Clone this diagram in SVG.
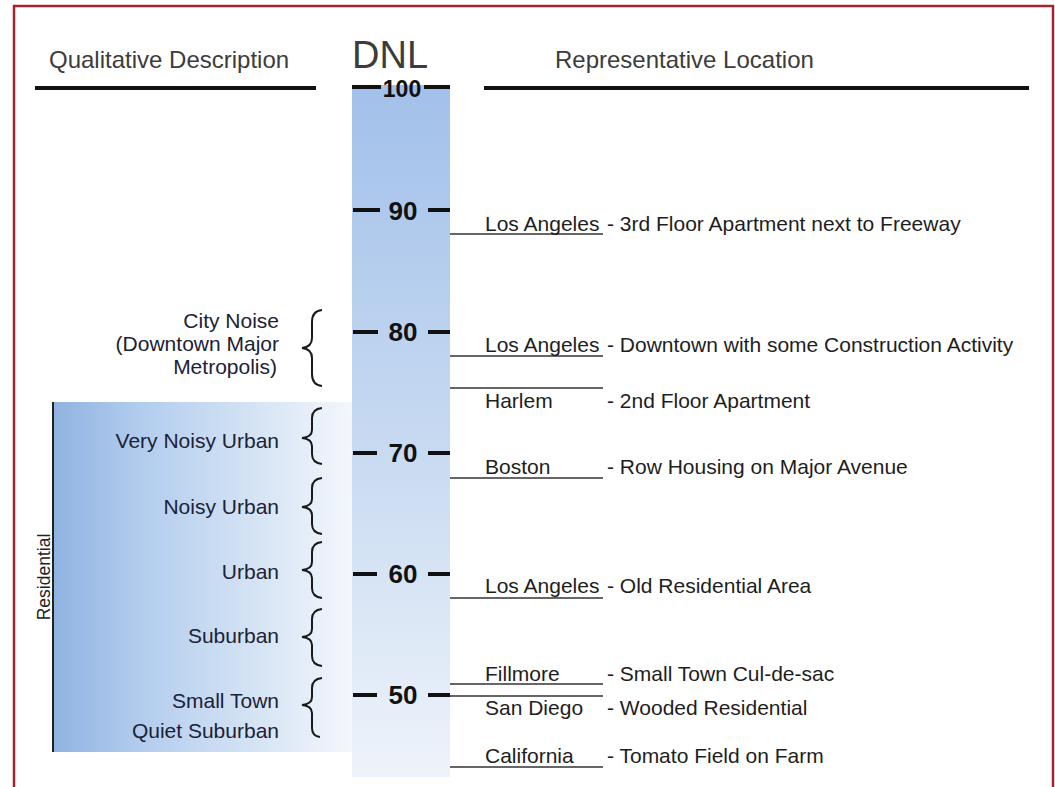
<svg xmlns="http://www.w3.org/2000/svg" width="1055" height="787" viewBox="0 0 1055 787">
<defs>
<linearGradient id="barGrad" x1="0" y1="0" x2="0" y2="1">
<stop offset="0" stop-color="#a2c0ea"/>
<stop offset="0.5" stop-color="#c6d9f1"/>
<stop offset="1" stop-color="#eef3fa"/>
</linearGradient>
<linearGradient id="resGrad" x1="0" y1="0" x2="1" y2="0">
<stop offset="0" stop-color="#8fb3e1"/>
<stop offset="0.3" stop-color="#b3cdee"/>
<stop offset="0.72" stop-color="#d9e6f5"/>
<stop offset="1" stop-color="#f3f7fc"/>
</linearGradient>
<style>
.hdr{font-family:"Liberation Sans",Arial,sans-serif;font-size:24px;fill:#3c3c3c}
.lbl{font-family:"Liberation Sans",Arial,sans-serif;font-size:21px;fill:#1c2236;text-anchor:end}
.loc{font-family:"Liberation Sans",Arial,sans-serif;font-size:21px;fill:#1e1e1e}
.tick{font-family:"Liberation Sans",Arial,sans-serif;font-size:26px;font-weight:bold;fill:#111;text-anchor:middle}
.dash{stroke:#111;stroke-width:4}
.thin{stroke:#333;stroke-width:1.5;fill:none}
.brace{stroke:#1a1a1a;stroke-width:2;fill:none}
</style>
</defs>
<rect x="0" y="0" width="1055" height="787" fill="#ffffff"/>
<path d="M14 787 V6 H1053 V787" fill="none" stroke="#a8232e" stroke-width="2.5"/>

<g id="headers">
<text class="hdr" x="49" y="68">Qualitative Description</text>
<text class="hdr" x="352" y="68" style="font-size:38px">DNL</text>
<text class="hdr" x="555" y="68">Representative Location</text>
<line x1="35" y1="88" x2="316" y2="88" stroke="#111" stroke-width="4"/>
<line x1="484" y1="88" x2="1029" y2="88" stroke="#111" stroke-width="4"/>
</g>

<g id="residential">
<rect x="53" y="402" width="299" height="350" fill="url(#resGrad)"/>
<line x1="53" y1="402" x2="53" y2="752" stroke="#222" stroke-width="2"/>
<text transform="translate(50,577) rotate(-90)" text-anchor="middle" style="font-family:'Liberation Sans',Arial,sans-serif;font-size:17.5px;fill:#222">Residential</text>
</g>

<g id="dnl-scale">
<rect x="352" y="85" width="98" height="692" fill="url(#barGrad)"/>
<line class="dash" x1="352" y1="87" x2="381" y2="87"/>
<line class="dash" x1="424" y1="87" x2="450" y2="87"/>
<text class="tick" x="402" y="97" style="font-size:23px">100</text>
<line class="dash" x1="353" y1="210" x2="380" y2="210"/>
<line class="dash" x1="428" y1="210" x2="450" y2="210"/>
<text class="tick" x="403" y="220">90</text>
<line class="dash" x1="353" y1="332" x2="378" y2="332"/>
<line class="dash" x1="428" y1="332" x2="450" y2="332"/>
<text class="tick" x="403" y="341">80</text>
<line class="dash" x1="353" y1="453" x2="377" y2="453"/>
<line class="dash" x1="428" y1="453" x2="450" y2="453"/>
<text class="tick" x="403" y="462">70</text>
<line class="dash" x1="353" y1="574" x2="377" y2="574"/>
<line class="dash" x1="428" y1="574" x2="450" y2="574"/>
<text class="tick" x="403" y="583">60</text>
<line class="dash" x1="353" y1="695" x2="377" y2="695"/>
<line class="dash" x1="428" y1="695" x2="450" y2="695"/>
<text class="tick" x="403" y="704">50</text>
</g>

<g id="desc-city">
<text class="lbl" x="279" y="328">City Noise</text>
<text class="lbl" x="279" y="351">(Downtown Major</text>
<text class="lbl" x="277" y="374">Metropolis)</text>
<path class="brace" d="M322 310 Q312 311 312 322 L312 338 Q312 347 302 348 Q312 349 312 358 L312 374 Q312 385 322 386"/>
</g>
<g id="desc-very-noisy">
<text class="lbl" x="279" y="448">Very Noisy Urban</text>
<path class="brace" d="M322 408 Q312 409 312 418 L312 430 Q312 437 302 438 Q312 439 312 446 L312 454 Q312 463 322 464"/>
</g>
<g id="desc-noisy">
<text class="lbl" x="279" y="514">Noisy Urban</text>
<path class="brace" d="M322 478 Q312 479 312 488 L312 499 Q312 506 302 507 Q312 508 312 515 L312 524 Q312 533 322 534"/>
</g>
<g id="desc-urban">
<text class="lbl" x="279" y="579">Urban</text>
<path class="brace" d="M322 542 Q312 543 312 552 L312 562 Q312 569 302 570 Q312 571 312 578 L312 588 Q312 597 322 598"/>
</g>
<g id="desc-suburban">
<text class="lbl" x="279" y="643">Suburban</text>
<path class="brace" d="M322 609 Q312 610 312 619 L312 629 Q312 636 302 637 Q312 638 312 645 L312 656 Q312 665 322 666"/>
</g>
<g id="desc-small-town">
<text class="lbl" x="279" y="708">Small Town</text>
<text class="lbl" x="279" y="738">Quiet Suburban</text>
<path class="brace" d="M322 678 Q312 679 312 688 L312 697 Q312 704 302 705 Q312 706 312 713 L312 728 Q312 736 320 737"/>
</g>

<g id="connectors">
<line class="thin" x1="450" y1="234" x2="603" y2="234"/>
<line class="thin" x1="450" y1="356" x2="603" y2="356"/>
<line class="thin" x1="450" y1="388" x2="603" y2="388"/>
<line class="thin" x1="450" y1="478" x2="603" y2="478"/>
<line class="thin" x1="450" y1="598" x2="603" y2="598"/>
<line class="thin" x1="450" y1="684" x2="603" y2="684"/>
<line class="thin" x1="450" y1="696" x2="603" y2="696"/>
<line class="thin" x1="450" y1="767" x2="603" y2="767"/>
</g>

<g id="loc-la-freeway">
<text class="loc" x="485" y="231">Los Angeles</text>
<text class="loc" x="607" y="231">- 3rd Floor Apartment next to Freeway</text>
</g>
<g id="loc-la-downtown">
<text class="loc" x="485" y="352">Los Angeles</text>
<text class="loc" x="607" y="352">- Downtown with some Construction Activity</text>
</g>
<g id="loc-harlem">
<text class="loc" x="485" y="408">Harlem</text>
<text class="loc" x="607" y="408">- 2nd Floor Apartment</text>
</g>
<g id="loc-boston">
<text class="loc" x="485" y="474">Boston</text>
<text class="loc" x="607" y="474">- Row Housing on Major Avenue</text>
</g>
<g id="loc-la-residential">
<text class="loc" x="485" y="593">Los Angeles</text>
<text class="loc" x="607" y="593">- Old Residential Area</text>
</g>
<g id="loc-fillmore">
<text class="loc" x="485" y="681">Fillmore</text>
<text class="loc" x="607" y="681">- Small Town Cul-de-sac</text>
</g>
<g id="loc-san-diego">
<text class="loc" x="485" y="715">San Diego</text>
<text class="loc" x="607" y="715">- Wooded Residential</text>
</g>
<g id="loc-california">
<text class="loc" x="485" y="763">California</text>
<text class="loc" x="607" y="763">- Tomato Field on Farm</text>
</g>
</svg>
